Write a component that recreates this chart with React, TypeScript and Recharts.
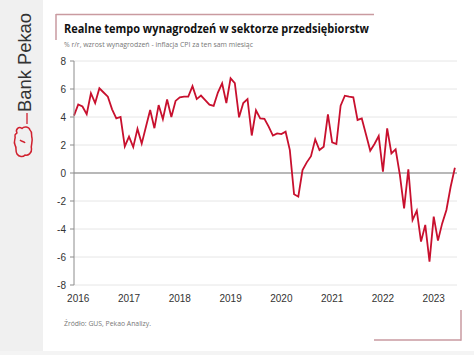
import React from 'react';
import { LineChart, Line, XAxis, YAxis, CartesianGrid, ReferenceLine } from 'recharts';

// Monthly real wage growth, Dec 2015 .. Jun 2023 (% y/y)
const realWage = [
  4.1, 4.9, 4.75, 4.2, 5.7, 5.0, 6.05, 5.75, 5.45, 4.55, 3.9, 4.0,
  1.9, 2.6, 1.85, 3.15, 2.1, 3.3, 4.5, 3.2, 4.85, 3.85, 5.25, 4.0,
  5.15, 5.4, 5.45, 5.45, 6.2, 5.28, 5.53, 5.2, 4.88, 4.8, 5.75, 6.4,
  5.0, 6.76, 6.42, 3.98, 5.0, 5.28, 2.68, 4.48, 3.9, 3.87, 3.31, 2.67,
  2.83, 2.78, 2.95, 1.64, -1.52, -1.69, 0.21, 0.76, 1.2, 2.4, 1.64, 1.88,
  4.19, 2.19, 2.07, 4.81, 5.52, 5.45, 5.4, 3.79, 3.9, 2.75, 1.59, 2.07,
  2.64, 0.1, 3.19, 1.4, 1.69, -0.14, -2.52, 0.26, -3.36, -2.69, -4.9, -3.71,
  -6.33, -3.12, -4.83, -3.6, -2.64, -0.98, 0.38,
];
const yearLabels = ['2016', '2017', '2018', '2019', '2020', '2021', '2022', '2023'];
const yearTickIdx = [1, 13, 25, 37, 49, 61, 73, 85];
const yTicks = [-8, -6, -4, -2, 0, 2, 4, 6, 8];

const data = realWage.map((v, i) => ({ idx: i, value: v }));

const TITLE = 'Realne tempo wynagrodzeń w sektorze przedsiębiorstw';
const SUBTITLE = '% r/r, wzrost wynagrodzeń  - inflacja CPI za ten sam miesiąc';
const SOURCE = 'Źródło: GUS, Pekao Analizy.';
const BRAND = 'Bank Pekao';

export default function App() {
  const font = '"Liberation Sans", Arial, sans-serif';
  return (
    <div style={{ position: 'absolute', left: 0, top: 0, width: 474, height: 355, background: '#ffffff', overflow: 'hidden', fontFamily: font }}>
      <div style={{ position: 'absolute', left: 0, top: 0, width: 43, height: 355, background: '#f0f0f0' }} />
      <div style={{ position: 'absolute', left: 0, top: 351, width: 474, height: 4, background: '#f4f4f4' }} />
      <div style={{ position: 'absolute', left: 0, top: 0 }}>
        <LineChart width={474} height={355} data={data} margin={{ top: 61, right: 17, bottom: 50, left: 0 }}>
          <CartesianGrid vertical={false} stroke="#e6e6e6" />
          <XAxis
            dataKey="idx"
            type="number"
            domain={[0, 90.5]}
            ticks={yearTickIdx}
            tickFormatter={(v: number) => yearLabels[yearTickIdx.indexOf(v)]}
            axisLine={false}
            tickLine={false}
            tickMargin={4}
            height={20}
            interval={0}
            tick={{ fill: '#333333', fontSize: 10, fontFamily: font }}
          />
          <YAxis
            type="number"
            domain={[-8, 8]}
            ticks={yTicks}
            width={74}
            interval={0}
            axisLine={{ stroke: '#8c8c8c' }}
            tickLine={{ stroke: '#8c8c8c' }}
            tickSize={4}
            tickMargin={4}
            tick={{ fill: '#333333', fontSize: 10, fontFamily: font }}
          />
          <ReferenceLine y={0} stroke="#7f7f7f" strokeWidth={1.2} />
          <Line type="linear" dataKey="value" stroke="#c8102e" strokeWidth={1.8} dot={false} isAnimationActive={false} />
        </LineChart>
      </div>
      <svg width={474} height={355} style={{ position: 'absolute', left: 0, top: 0, pointerEvents: 'none' }}>
        {/* title frame */}
        <line x1={56} y1={14.5} x2={374} y2={14.5} stroke="#c99aa0" strokeWidth={1.5} />
        <line x1={56} y1={14} x2={56} y2={40} stroke="#c99aa0" strokeWidth={1.5} />
        {/* bottom-right frame */}
        <line x1={374} y1={340} x2={461} y2={340} stroke="#c99aa0" strokeWidth={1.5} />
        <line x1={461} y1={310} x2={461} y2={340.7} stroke="#c99aa0" strokeWidth={1.5} />
        <text x={64} y={33} fontFamily='"Open Sans", sans-serif' fontWeight={700} fontSize={12.5} fill="#111" textLength={305} lengthAdjust="spacingAndGlyphs">{TITLE}</text>
        <text x={64} y={47} fontFamily='"Open Sans", sans-serif' fontSize={7.2} fill="#777" textLength={189} lengthAdjust="spacingAndGlyphs">{SUBTITLE}</text>
        <text x={64} y={325.5} fontFamily='"Open Sans", sans-serif' fontSize={7} fill="#777" textLength={87} lengthAdjust="spacingAndGlyphs">{SOURCE}</text>
        {/* brand */}
        <text x={0} y={0} transform="translate(31,112) rotate(-90)" fontFamily='"Liberation Sans", Arial, sans-serif' fontSize={18.5} fill="#333" textLength={99} lengthAdjust="spacingAndGlyphs">{BRAND}</text>
        <line x1={27} y1={113} x2={27} y2={124} stroke="#d0202e" strokeWidth={1.3} />
        <path
          d="M17,133 C15,129 19,126 22,128.5 C24,126 29,126.5 30,130 C32.5,132 31,135 32,138 C33,142 30.5,145 31.5,149 C32,153 28,156 25,155 C23,157.5 19,157 17,154 C15,151 17,148 15,145 C13,141 16,139 15,136 C14.5,134.5 16,134 17,133 Z M20,140 C22,142 24,141 25,143"
          fill="none"
          stroke="#d0202e"
          strokeWidth={1.5}
          strokeLinejoin="round"
        />
      </svg>
    </div>
  );
}
